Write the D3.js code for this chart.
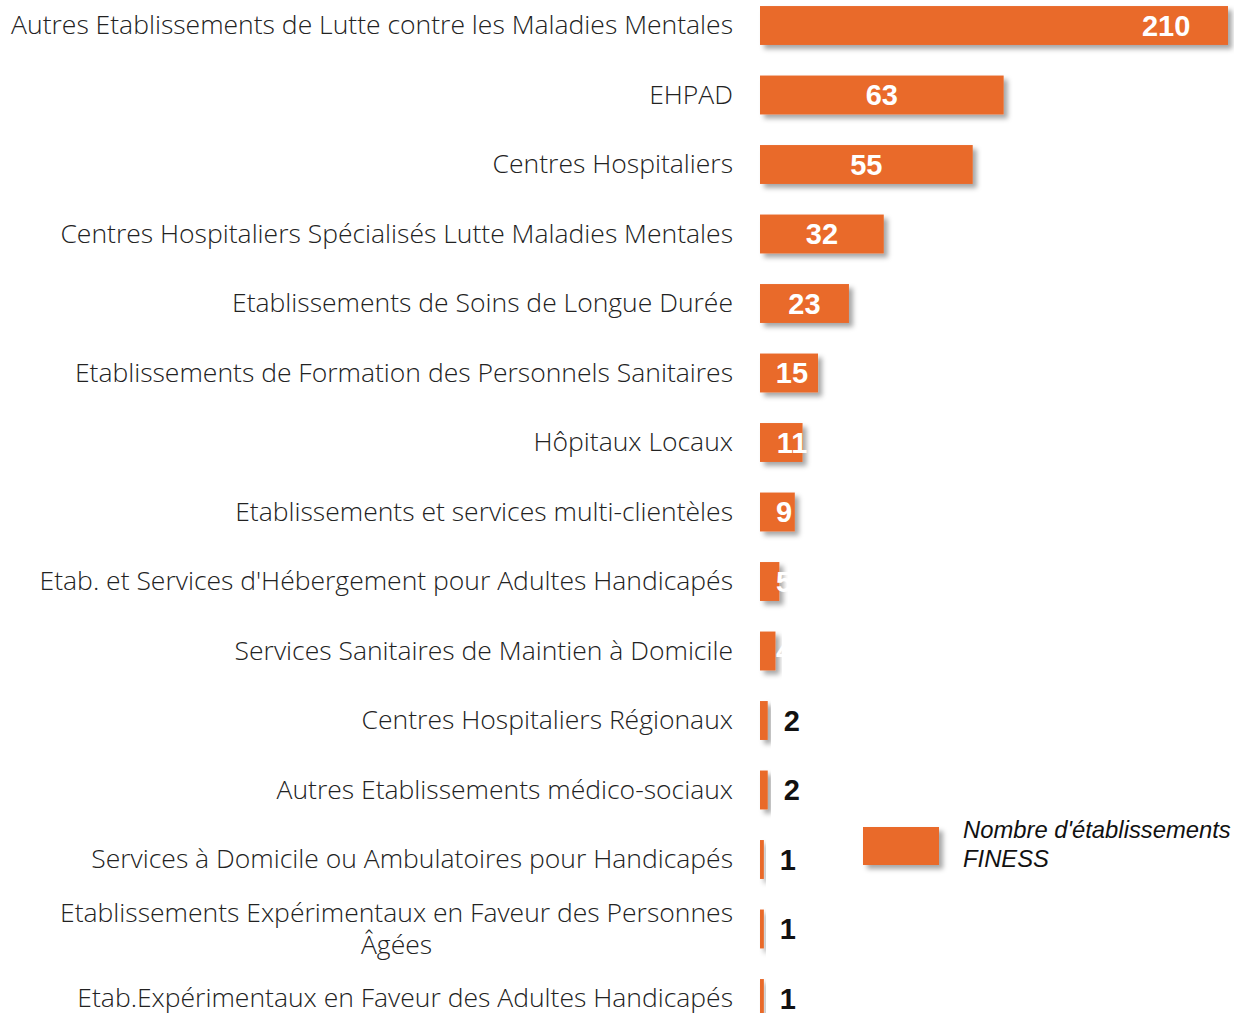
<!DOCTYPE html>
<html>
  <head>
    <meta charset="utf-8">
    <title>Nombre d'établissements FINESS</title>
    <style>
      body { margin: 0; background: #fff; }
      .cat { font-family: "Open Sans", "Lato", sans-serif; font-weight: 300; font-size: 26.5px; fill: #222; }
      .val { font-family: "Liberation Sans", Arial, sans-serif; font-weight: bold; font-size: 29px; }
      .leg { font-family: "Liberation Sans", Arial, sans-serif; font-style: italic; font-size: 23.8px; fill: #111; }
    </style>
  </head>
  <body>
    <script src="https://d3js.org/d3.v7.min.js"></script>
    <script>

var width = 1234,
    height = 1013;

// categories, top to bottom
var categories = [
  "Autres Etablissements de Lutte contre les Maladies Mentales",
  "EHPAD",
  "Centres Hospitaliers",
  "Centres Hospitaliers Spécialisés Lutte Maladies Mentales",
  "Etablissements de Soins de Longue Durée",
  "Etablissements de Formation des Personnels Sanitaires",
  "Hôpitaux Locaux",
  "Etablissements et services multi-clientèles",
  "Etab. et Services d'Hébergement pour Adultes Handicapés",
  "Services Sanitaires de Maintien à Domicile",
  "Centres Hospitaliers Régionaux",
  "Autres Etablissements médico-sociaux",
  "Services à Domicile ou Ambulatoires pour Handicapés",
  "Etablissements Expérimentaux en Faveur des Personnes|Âgées",
  "Etab.Expérimentaux en Faveur des Adultes Handicapés"
];

var values = [210, 63, 55, 32, 23, 15, 11, 9, 5, 4, 2, 2, 1, 1, 1];

var seriesName = ["Nombre d'établissements", "FINESS"];

var orange = "#e96a2a";

var svg = d3.select("body").append("svg")
    .attr("width", width)
    .attr("height", height);

var defs = svg.append("defs");
var f = defs.append("filter").attr("id", "shadow")
    .attr("x", "-20%").attr("y", "-20%").attr("width", "160%").attr("height", "180%");
f.append("feDropShadow")
    .attr("dx", 4).attr("dy", 4).attr("stdDeviation", 2.5)
    .attr("flood-color", "#000").attr("flood-opacity", 0.35);

// axis max is below the first value, so the first bar is cut at the edge
var x = d3.scaleLinear().domain([0, 121]).range([760, 1228]);
var xc = x.copy().clamp(true);

var y = d3.scaleBand()
    .domain(d3.range(categories.length))
    .range([-9.25, 1033.25])
    .paddingInner(0.44)
    .paddingOuter(0.22);

var rows = svg.selectAll("g.row")
  .data(values)
  .enter().append("g")
    .attr("class", "row");

rows.append("rect")
    .attr("x", x(0))
    .attr("y", function (d, i) { return y(i); })
    .attr("width", function (d) { return xc(d) - x(0); })
    .attr("height", y.bandwidth())
    .attr("fill", orange)
    .attr("filter", "url(#shadow)");

// value labels
rows.append("text")
    .attr("class", "val")
    .attr("y", function (d, i) { return y(i) + y.bandwidth() / 2; })
    .attr("dy", "0.36em")
    .attr("x", function (d) {
      if (d <= 2) return xc(d) + 16;
      return Math.max(x(d / 2), 776 + String(d).length * 8);
    })
    .attr("text-anchor", function (d) { return d <= 2 ? "start" : "middle"; })
    .attr("fill", function (d) { return d <= 2 ? "#111" : "#fff"; })
    .text(function (d) { return d; });

// category labels, centre-aligned lines right-aligned as a block
svg.selectAll("text.cat")
  .data(categories)
  .enter().append("text")
    .attr("class", "cat")
    .each(function (d, i) {
      var lines = d.split("|");
      var t = d3.select(this);
      var cy = y(i) + y.bandwidth() / 2;
      if (lines.length === 1) {
        t.attr("x", 733).attr("y", cy).attr("dy", "0.33em")
          .attr("text-anchor", "end").text(d);
      } else {
        t.attr("text-anchor", "middle");
        var tmp = t.append("tspan").text(lines[0]);
        var w = tmp.node().getComputedTextLength();
        tmp.remove();
        var mid = 733 - w / 2;
        lines.forEach(function (l, k) {
          t.append("tspan")
            .attr("x", mid)
            .attr("y", cy + (k - (lines.length - 1) / 2) * 32)
            .attr("dy", "0.33em")
            .text(l);
        });
      }
    });

// legend
var legend = svg.append("g").attr("transform", "translate(863,827)");
legend.append("rect")
    .attr("width", 76).attr("height", 38)
    .attr("fill", orange)
    .attr("filter", "url(#shadow)");
legend.selectAll("text")
  .data(seriesName)
  .enter().append("text")
    .attr("class", "leg")
    .attr("x", 100)
    .attr("y", function (d, i) { return 11 + i * 29; })
    .text(function (d) { return d; });

    </script>
  </body>
</html>
